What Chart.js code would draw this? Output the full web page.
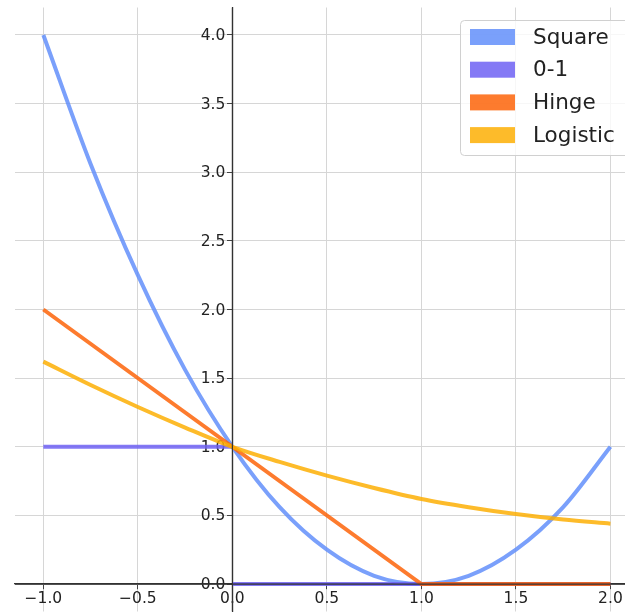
<!DOCTYPE html>
<html>
<head>
<meta charset="utf-8">
<script src="https://cdn.jsdelivr.net/npm/chart.js@4"></script>
<style>
  html, body { margin: 0; padding: 0; background: #fff; }
  #wrap { width: 625px; height: 614px; position: relative; }
</style>
</head>
<body>
<div id="wrap"><canvas id="lossChart"></canvas></div>
<script>
// margin values sampled every 0.25
const margins = [-1, -0.75, -0.5, -0.25, 0, 0.25, 0.5, 0.75, 1, 1.25, 1.5, 1.75, 2];
const squareLoss = [4.0, 3.06, 2.25, 1.56, 1.0, 0.56, 0.25, 0.06, 0.0, 0.06, 0.25, 0.56, 1.0];
const logisticLoss = [1.62, 1.45, 1.29, 1.14, 1.0, 0.89, 0.79, 0.70, 0.62, 0.56, 0.51, 0.47, 0.44];

// piecewise linear losses
const hingeX = [-1, 1, 2];
const hingeLoss = [2, 0, 0];
const zeroOneX = [-1, 0, 0, 0, 2];
const zeroOneLoss = [1, 1, null, 0, 0];

const xTicks = [-1.0, -0.5, 0.0, 0.5, 1.0, 1.5, 2.0];
const yTicks = [0.0, 0.5, 1.0, 1.5, 2.0, 2.5, 3.0, 3.5, 4.0];

const seriesNames = ["Square", "0-1", "Hinge", "Logistic"];
const seriesColors = [
  "rgba(99,143,250,0.85)",
  "rgba(110,97,243,0.85)",
  "rgba(253,100,9,0.85)",
  "rgba(253,175,5,0.85)",
];

const tickFont = "15.5px 'DejaVu Sans'";
const spineColor = "#333";
const pts = (xs, ys) => xs.map((x, i) => ({ x: x, y: ys[i] }));
const fmt = (v) => v.toFixed(1).replace("-", "\u2212");

// y labels sit left of the centred axis, under the curves
const yLabels = {
  id: "yLabels",
  beforeDatasetsDraw(chart) {
    const ctx = chart.ctx;
    const ax = chart.scales.x.getPixelForValue(0);
    const ys = chart.scales.y;
    ctx.save();
    ctx.font = tickFont;
    ctx.fillStyle = "#222";
    ctx.textAlign = "right";
    ctx.textBaseline = "middle";
    yTicks.forEach((v) => {
      ctx.fillText(fmt(v), ax - 7, ys.getPixelForValue(v) + 1);
    });
    ctx.restore();
  },
};

// spines through the origin, drawn over the curves
const spines = {
  id: "spines",
  afterDatasetsDraw(chart) {
    const { ctx, chartArea: a } = chart;
    const px = chart.scales.x.getPixelForValue(0);
    const py = chart.scales.y.getPixelForValue(0);
    ctx.save();
    ctx.strokeStyle = spineColor;
    ctx.lineWidth = 1.2;
    ctx.beginPath();
    ctx.moveTo(px, a.top);
    ctx.lineTo(px, a.bottom);
    ctx.moveTo(a.left, py);
    ctx.lineTo(a.right, py);
    ctx.stroke();
    ctx.restore();
  },
};

// framed legend in the upper right corner of the plot
const boxLegend = {
  id: "boxLegend",
  afterDraw(chart) {
    const ctx = chart.ctx;
    const x0 = 460, y0 = 20, w = 170, h = 135;
    ctx.save();
    ctx.beginPath();
    ctx.roundRect(x0 + 0.5, y0 + 0.5, w, h, 4);
    ctx.fillStyle = "rgba(255,255,255,0.8)";
    ctx.fill();
    ctx.strokeStyle = "#d0d0d0";
    ctx.lineWidth = 1;
    ctx.stroke();
    ctx.font = "21.5px 'DejaVu Sans'";
    ctx.textBaseline = "middle";
    chart.data.datasets.forEach((ds, i) => {
      const cy = 37 + i * 32.7;
      ctx.fillStyle = ds.borderColor;
      ctx.fillRect(470, cy - 8, 45, 16);
      ctx.fillStyle = "#222";
      ctx.fillText(ds.label, 533, cy + 1);
    });
    ctx.restore();
  },
};

const lineStyle = { borderWidth: 4, pointRadius: 0, fill: false };

new Chart(document.getElementById("lossChart"), {
  type: "line",
  data: {
    datasets: [
      {
        ...lineStyle,
        label: seriesNames[0],
        data: pts(margins, squareLoss),
        borderColor: seriesColors[0],
        cubicInterpolationMode: "monotone",
        order: 3,
      },
      {
        ...lineStyle,
        label: seriesNames[1],
        data: pts(zeroOneX, zeroOneLoss),
        borderColor: seriesColors[1],
        spanGaps: false,
        order: 2,
      },
      {
        ...lineStyle,
        label: seriesNames[2],
        data: pts(hingeX, hingeLoss),
        borderColor: seriesColors[2],
        order: 1,
      },
      {
        ...lineStyle,
        label: seriesNames[3],
        data: pts(margins, logisticLoss),
        borderColor: seriesColors[3],
        cubicInterpolationMode: "monotone",
        order: 0,
      },
    ],
  },
  options: {
    responsive: true,
    maintainAspectRatio: false,
    animation: false,
    layout: { padding: { left: 15, top: 7.5, right: 0, bottom: 2.5 } },
    plugins: {
      legend: { display: false },
      tooltip: { enabled: false },
    },
    scales: {
      x: {
        type: "linear",
        position: { y: 0 },
        min: -1.15,
        max: 2.077,
        afterFit: (s) => {
          s.height = 0;
          s.paddingLeft = 0;
          s.paddingRight = 0;
        },
        afterBuildTicks: (s) => { s.ticks = xTicks.map((v) => ({ value: v })); },
        grid: { color: "#d6d6d6", tickColor: "#444", tickLength: 5 },
        border: { color: spineColor, width: 1.2 },
        ticks: {
          font: { family: "DejaVu Sans", size: 15.5 },
          color: "#222",
          padding: 1,
          maxRotation: 0,
          callback: (v) => fmt(v),
        },
      },
      y: {
        type: "linear",
        position: { x: 0 },
        min: -0.2,
        max: 4.2,
        afterFit: (s) => {
          s.width = 0;
          s.paddingTop = 0;
          s.paddingBottom = 0;
        },
        afterBuildTicks: (s) => { s.ticks = yTicks.map((v) => ({ value: v })); },
        grid: { color: "#d6d6d6", tickColor: "#444", tickLength: 5 },
        border: { color: spineColor, width: 1.2 },
        ticks: { display: false },
      },
    },
  },
  plugins: [yLabels, spines, boxLegend],
});
</script>
</body>
</html>
